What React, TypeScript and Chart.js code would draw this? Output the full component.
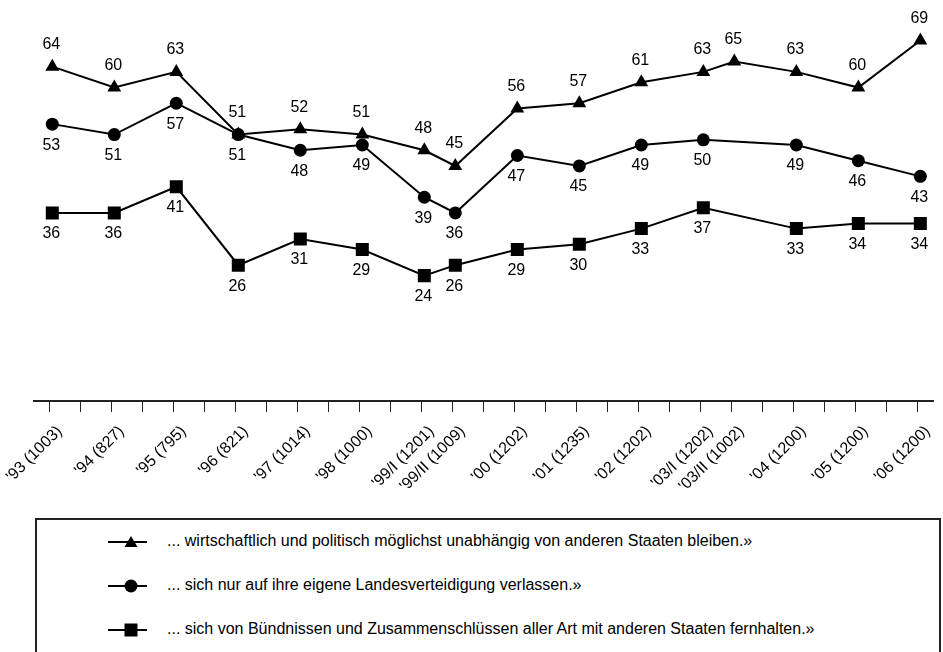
import React, { useEffect, useRef } from "react";
import { Chart, registerables } from "chart.js";

Chart.register(...registerables);

// ---- data ----
const surveyLabels = [
  "'93 (1003)", "'94 (827)", "'95 (795)", "'96 (821)", "'97 (1014)", "'98 (1000)",
  "'99/I (1201)", "'99/II (1009)", "'00 (1202)", "'01 (1235)", "'02 (1202)",
  "'03/I (1202)", "'03/II (1002)", "'04 (1200)", "'05 (1200)", "'06 (1200)",
];
// survey position on the time axis (years since '93, half-year surveys in between)
const surveyPositions = [0, 1, 2, 3, 4, 5, 6, 6.5, 7.5, 8.5, 9.5, 10.5, 11, 12, 13, 14];

const unabhaengig = [64, 60, 63, 51, 52, 51, 48, 45, 56, 57, 61, 63, 65, 63, 60, 69];
const verteidigung = [53, 51, 57, 51, 48, 49, 39, 36, 47, 45, 49, 50, null, 49, 46, 43];
const buendnisse = [36, 36, 41, 26, 31, 29, 24, 26, 29, 30, 33, 37, null, 33, 34, 34];

const seriesNames = [
  "... wirtschaftlich und politisch möglichst unabhängig von anderen Staaten bleiben.»",
  "... sich nur auf ihre eigene Landesverteidigung verlassen.»",
  "... sich von Bündnissen und Zusammenschlüssen aller Art mit anderen Staaten fernhalten.»",
];
const seriesMarkers = ["triangle", "circle", "rect"];

const axisTickValues = [
  0, 0.5, 1, 1.5, 2, 2.5, 3, 3.5, 4, 4.5, 5, 5.5, 6, 6.5, 7, 7.5, 8, 8.5, 9, 9.5,
  10, 10.5, 11, 11.5, 12, 12.5, 13, 13.5, 14,
];

const FONT = '"Liberation Sans", Arial, Helvetica, sans-serif';
const POINT_SHIFT = 0.043;

const valueLabels = {
  id: "valueLabels",
  afterDatasetsDraw(chart: any) {
    const ctx = chart.ctx;
    ctx.save();
    ctx.font = `16px ${FONT}`;
    ctx.fillStyle = "#000";
    ctx.textAlign = "center";
    ctx.textBaseline = "middle";
    chart.data.datasets.forEach((ds: any, di: number) => {
      const meta = chart.getDatasetMeta(di);
      const dy = di === 0 ? -22 : 21;
      meta.data.forEach((pt: any, i: number) => {
        const v = ds.data[i].y;
        if (v === null || v === undefined) return;
        ctx.fillText(String(v), pt.x - 1, pt.y + dy);
      });
    });
    ctx.restore();
  },
};

function buildPoints(values: (number | null)[]) {
  return surveyPositions.map((p, i) => ({ x: p + POINT_SHIFT, y: values[i] }));
}

function LegendMarker({ kind }: { kind: string }) {
  let shape: any = null;
  if (kind === "triangle") shape = <polygon points="23,1 29.5,12 16.5,12" fill="#000" />;
  else if (kind === "circle") shape = <circle cx="23" cy="7" r="6.5" fill="#000" />;
  else shape = <rect x="16.5" y="0.5" width="13" height="13" fill="#000" />;
  return (
    <svg width="40" height="14" viewBox="0 0 40 14" style={{ display: "block" }}>
      <line x1="0" y1="7" x2="39" y2="7" stroke="#000" strokeWidth="2" />
      {shape}
    </svg>
  );
}

export default function App() {
  const canvasRef = useRef<HTMLCanvasElement | null>(null);

  useEffect(() => {
    const canvas = canvasRef.current;
    if (!canvas) return;
    const seriesValues = [unabhaengig, verteidigung, buendnisse];
    const radii = [8, 6.5, 9.2];
    const chart = new Chart(canvas, {
      type: "line",
      data: {
        datasets: seriesValues.map((vals, i) => ({
          label: seriesNames[i],
          data: buildPoints(vals),
          borderColor: "#000",
          backgroundColor: "#000",
          borderWidth: 2,
          pointStyle: seriesMarkers[i],
          pointRadius: radii[i],
          pointBorderWidth: 0,
          pointBackgroundColor: "#000",
          pointBorderColor: "#000",
          spanGaps: true,
          tension: 0,
        })),
      },
      options: {
        responsive: false,
        animation: false,
        devicePixelRatio: 1,
        layout: { padding: { left: 33.5, right: 0, top: 4, bottom: 0 } },
        plugins: {
          legend: { display: false },
          tooltip: { enabled: false },
        },
        scales: {
          x: {
            type: "linear",
            min: -0.26,
            max: 14.26,
            afterBuildTicks: (scale: any) => {
              scale.ticks = axisTickValues.map((v) => ({ value: v }));
            },
            afterFit: (scale: any) => {
              scale.height = 110;
              scale.paddingLeft = 0;
              scale.paddingRight = 0;
            },
            grid: {
              display: true,
              drawOnChartArea: false,
              drawTicks: true,
              tickLength: 11,
              color: "#222",
              tickColor: "#222",
              tickWidth: 1,
            },
            border: { display: true, color: "#222", width: 2 },
            ticks: {
              autoSkip: false,
              minRotation: 45,
              maxRotation: 45,
              padding: 10,
              labelOffset: 10,
              color: "#000",
              font: { family: FONT, size: 16 },
              callback: (value: any) => {
                const idx = surveyPositions.findIndex((p) => Math.abs(p - Number(value)) < 1e-6);
                return idx >= 0 ? surveyLabels[idx] : "";
              },
            },
          },
          y: {
            display: false,
            min: 0,
            max: 75,
          },
        },
      },
      plugins: [valueLabels],
    } as any);
    return () => chart.destroy();
  }, []);

  const rowCenters = [542, 586, 630];

  return (
    <div
      style={{
        position: "absolute",
        left: 0,
        top: 0,
        width: 943,
        height: 652,
        overflow: "hidden",
        background: "#fff",
        fontFamily: FONT,
      }}
    >
      <canvas
        ref={canvasRef}
        width={943}
        height={511}
        style={{ position: "absolute", left: 0, top: 0, width: 943, height: 511 }}
      />
      <div
        style={{
          position: "absolute",
          left: 35,
          top: 518,
          width: 906,
          height: 200,
          boxSizing: "border-box",
          border: "2px solid #222",
        }}
      />
      {seriesNames.map((name, i) => (
        <React.Fragment key={i}>
          <div style={{ position: "absolute", left: 108, top: rowCenters[i] - 7 }}>
            <LegendMarker kind={seriesMarkers[i]} />
          </div>
          <div
            style={{
              position: "absolute",
              left: 167,
              top: rowCenters[i] - 11,
              height: 20,
              lineHeight: "20px",
              fontSize: 16,
              color: "#000",
              whiteSpace: "nowrap",
            }}
          >
            {name}
          </div>
        </React.Fragment>
      ))}
    </div>
  );
}
